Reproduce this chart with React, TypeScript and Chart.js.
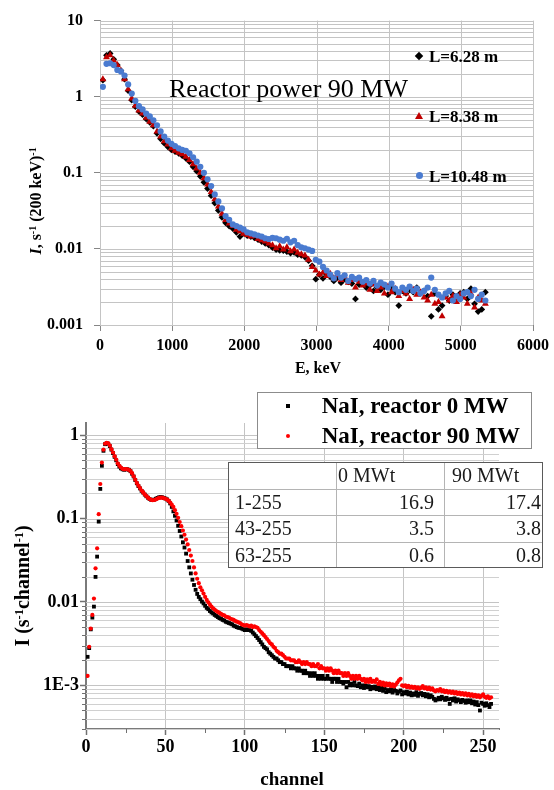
import React, { useEffect, useRef } from 'react';
import { Chart, registerables } from 'chart.js';

Chart.register(...registerables);

// ---------- Top chart data (energy, keV) ----------
const ENERGY_KEV = [
  40, 90, 140, 190, 240, 290, 340, 390, 440, 490,
  540, 590, 640, 690, 740, 790, 840, 890, 940, 990,
  1040, 1090, 1140, 1190, 1240, 1290, 1340, 1390, 1440, 1490,
  1540, 1590, 1640, 1690, 1740, 1790, 1840, 1890, 1940, 1990,
  2040, 2090, 2140, 2190, 2240, 2290, 2340, 2390, 2440, 2490,
  2540, 2590, 2640, 2690, 2740, 2790, 2840, 2890, 2940, 2990,
  3040, 3090, 3140, 3190, 3240, 3290, 3340, 3390, 3440, 3490,
  3540, 3590, 3640, 3690, 3740, 3790, 3840, 3890, 3940, 3990,
  4040, 4090, 4140, 4190, 4240, 4290, 4340, 4390, 4440, 4490,
  4540, 4590, 4640, 4690, 4740, 4790, 4840, 4890, 4940, 4990,
  5040, 5090, 5140, 5190, 5240, 5290, 5340,
];

const L_628 = [
  1.65, 3.5, 3.7, 3.1, 2.6, 2.2, 1.7, 1.2, 0.9, 0.74,
  0.64, 0.58, 0.51, 0.46, 0.41, 0.33, 0.28, 0.245, 0.22, 0.2,
  0.19, 0.18, 0.168, 0.155, 0.14, 0.12, 0.105, 0.09, 0.075, 0.062,
  0.05, 0.04, 0.032, 0.026, 0.022, 0.02, 0.0185, 0.0165, 0.0145, 0.016,
  0.015, 0.0145, 0.014, 0.0132, 0.0125, 0.0118, 0.0112, 0.0104, 0.0098, 0.0096,
  0.0095, 0.0092, 0.0088, 0.009, 0.0084, 0.0082, 0.0078, 0.007, 0.006, 0.004,
  0.0046, 0.0041, 0.0046, 0.0043, 0.0038, 0.0042, 0.0036, 0.004, 0.0037, 0.0035,
  0.0022, 0.0034, 0.0036, 0.0031, 0.0033, 0.0028, 0.0031, 0.0029, 0.0032, 0.0025,
  0.003, 0.0027, 0.0018, 0.0028, 0.0026, 0.0029, 0.0027, 0.0031, 0.0026, 0.0028,
  0.0024, 0.0013, 0.0026, 0.0016, 0.0018, 0.0024, 0.0021, 0.0025, 0.0023, 0.0026,
  0.0027, 0.0022, 0.003, 0.0019, 0.0015, 0.0016, 0.0027,
];

const L_838 = [
  1.7, 3.3, 3.5, 3.0, 2.6, 2.2, 1.7, 1.25, 0.95, 0.76,
  0.66, 0.6, 0.53, 0.47, 0.42, 0.35, 0.3, 0.26, 0.235, 0.21,
  0.195, 0.183, 0.175, 0.163, 0.147, 0.13, 0.114, 0.1, 0.085, 0.07,
  0.056, 0.045, 0.036, 0.029, 0.024, 0.0215, 0.02, 0.0178, 0.017, 0.0158,
  0.0152, 0.0145, 0.0148, 0.0135, 0.013, 0.0125, 0.0118, 0.0112, 0.0102, 0.0108,
  0.0098, 0.0105, 0.0093, 0.0098, 0.0089, 0.0085, 0.0082, 0.0072, 0.0058, 0.0052,
  0.0046, 0.0049, 0.0044, 0.0047, 0.0041, 0.0045, 0.0039, 0.0043, 0.0036, 0.0039,
  0.0031, 0.0037, 0.0033, 0.0035, 0.0029, 0.0034, 0.0028, 0.0031, 0.0026, 0.0032,
  0.0027, 0.003, 0.0024, 0.0028, 0.0026, 0.0022, 0.0029, 0.0025, 0.0027, 0.0023,
  0.0021, 0.0025, 0.0019, 0.002, 0.0013, 0.0023, 0.0021, 0.0024, 0.002, 0.0025,
  0.0023, 0.0019, 0.0026, 0.0017, 0.0023, 0.0021, 0.0019,
];

const L_1048 = [
  1.35, 2.7, 2.75, 2.6, 2.25, 2.15, 1.9, 1.45, 1.1, 0.88,
  0.75, 0.68, 0.6, 0.55, 0.49, 0.42, 0.35, 0.3, 0.265, 0.24,
  0.225, 0.21, 0.2, 0.195, 0.18, 0.16, 0.14, 0.12, 0.1, 0.082,
  0.067, 0.052, 0.042, 0.034, 0.027, 0.024, 0.021, 0.02, 0.019, 0.018,
  0.0165, 0.016, 0.0155, 0.015, 0.0145, 0.0138, 0.0135, 0.014, 0.0138, 0.0132,
  0.0128, 0.0136, 0.0122, 0.0128, 0.0112, 0.0105, 0.0102, 0.0098, 0.0094, 0.0072,
  0.0068, 0.0058, 0.0052, 0.0046, 0.0041, 0.0048, 0.0042, 0.0045, 0.0038, 0.0043,
  0.004, 0.0042, 0.0037, 0.0039, 0.0035, 0.0038, 0.0033, 0.0036, 0.0034, 0.0031,
  0.0035, 0.003, 0.0027, 0.0031, 0.0029, 0.0032, 0.0028, 0.003, 0.0026, 0.0028,
  0.0031, 0.0042, 0.0029, 0.0025, 0.0023, 0.0026, 0.0028, 0.0021, 0.0024, 0.0022,
  0.0026, 0.0027, 0.0024, 0.0029, 0.0022, 0.0025, 0.0021,
];

const TOP_LEGEND = ['L=6.28 m', 'L=8.38 m', 'L=10.48 m'];
const TOP_TITLE = 'Reactor power 90 MW';
const TOP_Y_TICKS: Record<string, string> = { '-3': '0.001', '-2': '0.01', '-1': '0.1', '0': '1', '1': '10' };
const TOP_X_TICKS = [0, 1000, 2000, 3000, 4000, 5000, 6000];

// ---------- Bottom chart data (channels 1..255) ----------
const NAI_0MW = [
  0.0022, 0.0028, 0.0047, 0.0065, 0.0088, 0.020, 0.035, 0.092, 0.227, 0.43,
  0.65, 0.78, 0.80, 0.79, 0.74, 0.67, 0.61, 0.55, 0.50, 0.45,
  0.42, 0.40, 0.39, 0.385, 0.39, 0.39, 0.385, 0.37, 0.345, 0.32,
  0.29, 0.265, 0.245, 0.23, 0.215, 0.205, 0.194, 0.185, 0.178, 0.172,
  0.168, 0.167, 0.169, 0.173, 0.177, 0.18, 0.181, 0.18, 0.177, 0.174,
  0.17, 0.163, 0.152, 0.138, 0.122, 0.108, 0.095, 0.082, 0.071, 0.061,
  0.052, 0.045, 0.038, 0.031, 0.026, 0.022, 0.0185, 0.016, 0.014, 0.0125,
  0.0115, 0.0108, 0.0101, 0.0096, 0.009, 0.0085, 0.0082, 0.0078, 0.0075, 0.0073,
  0.007, 0.0068, 0.0066, 0.0064, 0.0063, 0.0061, 0.006, 0.0058, 0.0057, 0.0056,
  0.0055, 0.0054, 0.0052, 0.0051, 0.005, 0.0049, 0.0049, 0.0048, 0.0047, 0.0046,
  0.0047, 0.0046, 0.0046, 0.0045, 0.0043, 0.0041, 0.0039, 0.0037, 0.0035, 0.0033,
  0.0031, 0.0029, 0.0028, 0.0027, 0.0025, 0.0024, 0.0023, 0.0022, 0.0021, 0.0021,
  0.002, 0.0019, 0.0019, 0.0018, 0.0018, 0.0017, 0.0017, 0.0017, 0.0016, 0.0017,
  0.0016, 0.0016, 0.0015, 0.0016, 0.0015, 0.0015, 0.0014, 0.0015, 0.0014, 0.0014,
  0.0013, 0.0014, 0.0013, 0.0014, 0.0013, 0.0012, 0.0013, 0.0012, 0.0013, 0.0012,
  0.0012, 0.0013, 0.0012, 0.0012, 0.0011, 0.0012, 0.0012, 0.0011, 0.0012, 0.0011,
  0.0011, 0.00105, 0.0011, 0.00095, 0.0011, 0.001, 0.00105, 0.001, 0.0011, 0.001,
  0.00098, 0.00105, 0.00095, 0.001, 0.00093, 0.001, 0.00095, 0.00098, 0.0009, 0.00096,
  0.00092, 0.00097, 0.0009, 0.00095, 0.00088, 0.00094, 0.00086, 0.00092, 0.00083, 0.00088,
  0.00085, 0.0009, 0.00082, 0.00088, 0.00086, 0.0008, 0.00084, 0.00087, 0.00078, 0.00083,
  0.0008, 0.00084, 0.00078, 0.00082, 0.00076, 0.0008, 0.00077, 0.00083, 0.00075, 0.00079,
  0.00081, 0.00076, 0.00079, 0.00074, 0.00078, 0.00072, 0.00076, 0.00073, 0.00069, 0.00066,
  0.00068, 0.00071, 0.00068, 0.00073, 0.0007, 0.00067, 0.00071, 0.00068, 0.0006, 0.00069,
  0.00066, 0.0007, 0.00064, 0.00068, 0.00066, 0.00063, 0.00067, 0.00065, 0.00062, 0.00066,
  0.00063, 0.00066, 0.00061, 0.00064, 0.00059, 0.00063, 0.00058, 0.0005, 0.00062, 0.0006,
  0.00057, 0.00061, 0.00058, 0.00055, 0.0006,
];

const NAI_90MW = [
  0.0013, 0.0029, 0.0048, 0.007, 0.011, 0.0253, 0.044, 0.113, 0.26, 0.47,
  0.67, 0.79, 0.81, 0.80, 0.75, 0.68, 0.62, 0.56, 0.51, 0.46,
  0.43, 0.41, 0.395, 0.39, 0.392, 0.39, 0.385, 0.372, 0.35, 0.322,
  0.293, 0.268, 0.248, 0.232, 0.217, 0.206, 0.195, 0.186, 0.178, 0.172,
  0.168, 0.166, 0.167, 0.17, 0.174, 0.177, 0.178, 0.178, 0.176, 0.173,
  0.169, 0.164, 0.156, 0.147, 0.138, 0.126, 0.114, 0.102, 0.091, 0.081,
  0.072, 0.064, 0.056, 0.049, 0.042, 0.036, 0.031, 0.026, 0.022, 0.019,
  0.0168, 0.015, 0.0138, 0.0126, 0.0115, 0.0106, 0.0099, 0.0093, 0.0088, 0.0084,
  0.0081, 0.0078, 0.0076, 0.0074, 0.0072, 0.007, 0.0069, 0.0067, 0.0066, 0.0065,
  0.0063, 0.0062, 0.0061, 0.0059, 0.0058, 0.0057, 0.0056, 0.0054, 0.0053, 0.0052,
  0.0053, 0.0052, 0.0051, 0.0052, 0.005, 0.0051, 0.005, 0.0049, 0.0046, 0.0044,
  0.0042, 0.004, 0.0038, 0.0036, 0.0034, 0.0032, 0.0031, 0.0029, 0.0028, 0.0026,
  0.0025, 0.0024, 0.0024, 0.0023, 0.0022, 0.0021, 0.0021, 0.0021, 0.002, 0.002,
  0.002, 0.0019, 0.0019, 0.002, 0.0019, 0.0018, 0.0019, 0.0018, 0.0019, 0.0018,
  0.0018, 0.0017, 0.0018, 0.0017, 0.0017, 0.0018, 0.0016, 0.0017, 0.0016, 0.0016,
  0.0015, 0.0016, 0.0015, 0.0016, 0.0015, 0.0014, 0.0015, 0.0014, 0.0015, 0.0014,
  0.0014, 0.0013, 0.0014, 0.0013, 0.0014, 0.0013, 0.0012, 0.0013, 0.0012, 0.0013,
  0.0012, 0.0013, 0.0012, 0.00115, 0.0012, 0.0011, 0.00118, 0.0011, 0.0012, 0.0011,
  0.00113, 0.0011, 0.00118, 0.00104, 0.0011, 0.00102, 0.00108, 0.001, 0.00106, 0.001,
  0.00105, 0.00098, 0.00103, 0.00097, 0.00102, 0.00108, 0.00115, 0.0012, 0.001, 0.00098,
  0.001, 0.00095, 0.00099, 0.00094, 0.00097, 0.00093, 0.00096, 0.00092, 0.00095, 0.00091,
  0.00094, 0.00098, 0.00092, 0.00095, 0.0009, 0.00094, 0.00089, 0.00092, 0.00087, 0.00085,
  0.00088, 0.00086, 0.0009, 0.00085, 0.00087, 0.00083, 0.00086, 0.00082, 0.00085, 0.00081,
  0.00084, 0.0008, 0.00083, 0.00079, 0.00082, 0.00078, 0.00081, 0.00077, 0.0008, 0.00076,
  0.00079, 0.00075, 0.00078, 0.00074, 0.00077, 0.00073, 0.00076, 0.00072, 0.00075, 0.00078,
  0.00073, 0.00071, 0.00074, 0.0007, 0.00072,
];

const BOTTOM_LEGEND = ['NaI, reactor 0 MW', 'NaI, reactor 90 MW'];
const BOTTOM_Y_TICKS: Record<string, string> = { '-3': '1E-3', '-2': '0.01', '-1': '0.1', '0': '1' };
const BOTTOM_X_TICKS = [0, 25, 50, 75, 100, 125, 150, 175, 200, 225, 250];

const TABLE_HEAD = ['', '0 MWt', '90 MWt'];
const TABLE_RANGES = ['1-255', '43-255', '63-255'];
const TABLE_0MW = ['16.9', '3.5', '0.6'];
const TABLE_90MW = ['17.4', '3.8', '0.8'];

// ---------- helpers ----------
const SERIF = '"Liberation Serif", "Times New Roman", serif';

function powExp(v: number): number | null {
  const e = Math.log10(v);
  const r = Math.round(e);
  return Math.abs(e - r) < 1e-6 ? r : null;
}
function isNice(v: number): boolean {
  const e = Math.floor(Math.log10(v) + 1e-9);
  const m = v / Math.pow(10, e);
  return Math.abs(m - Math.round(m)) < 1e-6;
}

// Excel-like grid for the top chart, drawn from the scales' own ticks
const topGrid = {
  id: 'topGrid',
  beforeDatasetsDraw(chart: any) {
    const { ctx, scales, chartArea } = chart;
    const x = scales.x;
    const y = scales.y;
    ctx.save();
    ctx.strokeStyle = '#c4c4c4';
    ctx.lineWidth = 1;
    y.ticks.forEach((t: any) => {
      if (!isNice(t.value)) return;
      const py = Math.round(y.getPixelForValue(t.value)) + 0.5;
      ctx.beginPath();
      ctx.moveTo(chartArea.left, py);
      ctx.lineTo(chartArea.right, py);
      ctx.stroke();
    });
    x.ticks.forEach((t: any) => {
      const px = Math.round(x.getPixelForValue(t.value)) + 0.5;
      ctx.beginPath();
      ctx.moveTo(px, chartArea.top);
      ctx.lineTo(px, chartArea.bottom);
      ctx.stroke();
    });
    ctx.restore();
  },
};

// Bottom chart: light horizontal grid at every log tick, plus short minor tick marks
const bottomGrid = {
  id: 'bottomGrid',
  beforeDatasetsDraw(chart: any) {
    const { ctx, scales, chartArea } = chart;
    const y = scales.y;
    ctx.save();
    ctx.lineWidth = 1;
    y.ticks.forEach((t: any) => {
      if (!isNice(t.value)) return;
      ctx.strokeStyle = powExp(t.value) !== null ? '#c4c4c4' : '#d0d0d0';
      const py = Math.round(y.getPixelForValue(t.value)) + 0.5;
      ctx.beginPath();
      ctx.moveTo(chartArea.left, py);
      ctx.lineTo(chartArea.right, py);
      ctx.stroke();
    });
    ctx.restore();
  },
  afterDraw(chart: any) {
    const { ctx, scales } = chart;
    const x = scales.x;
    const y = scales.y;
    ctx.save();
    ctx.strokeStyle = '#707070';
    ctx.lineWidth = 1;
    y.ticks.forEach((t: any) => {
      if (powExp(t.value) === null && isNice(t.value)) {
        const py = Math.round(y.getPixelForValue(t.value)) + 0.5;
        ctx.beginPath();
        ctx.moveTo(y.right - 4, py);
        ctx.lineTo(y.right, py);
        ctx.stroke();
      }
    });
    x.ticks.forEach((t: any) => {
      if (t.value % 50 !== 0 && t.value % 25 === 0) {
        const px = Math.round(x.getPixelForValue(t.value)) + 0.5;
        ctx.beginPath();
        ctx.moveTo(px, x.top);
        ctx.lineTo(px, x.top + 4);
        ctx.stroke();
      }
    });
    ctx.restore();
  },
};

function TopChart() {
  const ref = useRef<HTMLCanvasElement>(null);
  useEffect(() => {
    if (!ref.current) return;
    const tickFont = { family: SERIF, size: 16, weight: 'bold' as const };
    const chart = new Chart(ref.current, {
      type: 'scatter',
      data: {
        datasets: [
          {
            label: TOP_LEGEND[0],
            data: ENERGY_KEV.map((x, i) => ({ x, y: L_628[i] })),
            pointStyle: 'rectRot',
            pointRadius: 3.4,
            backgroundColor: '#000000',
            borderColor: '#000000',
            borderWidth: 0,
            order: 3,
          },
          {
            label: TOP_LEGEND[1],
            data: ENERGY_KEV.map((x, i) => ({ x, y: L_838[i] })),
            pointStyle: 'triangle',
            pointRadius: 4,
            backgroundColor: '#c00000',
            borderColor: '#c00000',
            borderWidth: 0,
            order: 2,
          },
          {
            label: TOP_LEGEND[2],
            data: ENERGY_KEV.map((x, i) => ({ x, y: L_1048[i] })),
            pointStyle: 'circle',
            pointRadius: 3.1,
            backgroundColor: '#4a7bd0',
            borderColor: '#4a7bd0',
            borderWidth: 0,
            order: 1,
          },
        ],
      },
      options: {
        animation: false,
        responsive: false,
        devicePixelRatio: 1,
        layout: { padding: { left: 0, right: 17, top: 12, bottom: 0 } },
        plugins: { legend: { display: false }, tooltip: { enabled: false } },
        scales: {
          x: {
            type: 'linear',
            min: 0,
            max: 6000,
            afterBuildTicks: (s: any) => {
              s.ticks = TOP_X_TICKS.map((value) => ({ value }));
            },
            ticks: {
              font: tickFont,
              color: '#000',
              padding: 5,
              maxRotation: 0,
              autoSkip: false,
              callback: (v: any) => String(v),
            },
            grid: { drawOnChartArea: false, tickLength: 6, tickColor: '#868686' },
            border: { color: '#868686', width: 1 },
            afterFit: (s: any) => { s.height = 65; },
          },
          y: {
            type: 'logarithmic',
            min: 0.001,
            max: 10,
            ticks: {
              autoSkip: false,
              font: tickFont,
              color: '#000',
              padding: 11,
              callback: (v: any) => {
                const e = powExp(Number(v));
                return e === null ? '' : TOP_Y_TICKS[String(e)] ?? '';
              },
            },
            grid: {
              drawOnChartArea: false,
              tickLength: 6,
              tickColor: (c: any) => (c.tick && powExp(c.tick.value) !== null ? '#868686' : 'rgba(0,0,0,0)'),
            },
            border: { color: '#868686', width: 1 },
            afterFit: (s: any) => { s.width = 100; },
          },
        },
      },
      plugins: [topGrid],
    } as any);
    return () => chart.destroy();
  }, []);
  return <canvas ref={ref} width={554} height={390} style={{ position: 'absolute', left: 0, top: 0, display: 'block' }} />;
}

function BottomChart() {
  const ref = useRef<HTMLCanvasElement>(null);
  useEffect(() => {
    if (!ref.current) return;
    const tickFont = { family: SERIF, size: 18, weight: 'bold' as const };
    const chart = new Chart(ref.current, {
      type: 'scatter',
      data: {
        datasets: [
          {
            label: BOTTOM_LEGEND[0],
            data: NAI_0MW.map((y, i) => ({ x: i + 1, y })),
            pointStyle: 'rect',
            pointRadius: 2.7,
            backgroundColor: '#000000',
            borderColor: '#000000',
            borderWidth: 0,
            order: 2,
          },
          {
            label: BOTTOM_LEGEND[1],
            data: NAI_90MW.map((y, i) => ({ x: i + 1, y })),
            pointStyle: 'circle',
            pointRadius: 2.1,
            backgroundColor: '#ff0000',
            borderColor: '#ff0000',
            borderWidth: 0,
            order: 1,
          },
        ],
      },
      options: {
        animation: false,
        responsive: false,
        devicePixelRatio: 1,
        layout: { padding: { left: 0, right: 55, top: 33, bottom: 0 } },
        plugins: { legend: { display: false }, tooltip: { enabled: false } },
        scales: {
          x: {
            type: 'linear',
            min: 0,
            max: 260,
            afterBuildTicks: (s: any) => {
              s.ticks = BOTTOM_X_TICKS.map((value) => ({ value }));
            },
            ticks: {
              font: tickFont,
              color: '#000',
              padding: 2,
              maxRotation: 0,
              autoSkip: false,
              callback: (v: any) => (Number(v) % 50 === 0 ? String(v) : ''),
            },
            grid: {
              color: (c: any) => (c.tick && c.tick.value % 50 === 0 ? '#c4c4c4' : 'rgba(0,0,0,0)'),
              tickLength: 6,
              tickWidth: 1.5,
              tickColor: (c: any) => (c.tick && c.tick.value % 50 === 0 ? '#707070' : 'rgba(0,0,0,0)'),
            },
            border: { color: '#7a7a7a', width: 2 },
            afterFit: (s: any) => { s.height = 61; },
          },
          y: {
            type: 'logarithmic',
            min: 0.0003,
            max: 1.4,
            ticks: {
              autoSkip: false,
              font: tickFont,
              color: '#000',
              padding: 1,
              callback: (v: any) => {
                const e = powExp(Number(v));
                return e === null ? '' : BOTTOM_Y_TICKS[String(e)] ?? '';
              },
            },
            grid: {
              drawOnChartArea: false,
              tickLength: 6,
              tickWidth: 1.5,
              tickColor: (c: any) => (c.tick && powExp(c.tick.value) !== null ? '#707070' : 'rgba(0,0,0,0)'),
            },
            border: { color: '#7a7a7a', width: 2 },
            afterFit: (s: any) => { s.width = 86; },
          },
        },
      },
      plugins: [bottomGrid],
    } as any);
    return () => chart.destroy();
  }, []);
  return <canvas ref={ref} width={554} height={400} style={{ position: 'absolute', left: 0, top: 390, display: 'block' }} />;
}

const abs = (s: React.CSSProperties): React.CSSProperties => ({ position: 'absolute', whiteSpace: 'nowrap', ...s });
const sup: React.CSSProperties = { fontSize: '0.62em', position: 'relative', top: '-0.5em', verticalAlign: 'baseline' };

export default function App() {
  const legendTops = [47.5, 107.5, 167.5];
  const tableCols = [228, 336, 444];
  const tableWidths = [108, 108, 99];
  const rowH = 26.5;
  const tableTop = 462;
  const rows = [TABLE_HEAD, ...TABLE_RANGES.map((r, i) => [r, TABLE_0MW[i], TABLE_90MW[i]])];
  return (
    <div style={{ position: 'absolute', left: 0, top: 0, width: 554, height: 790, overflow: 'hidden', background: '#fff', fontFamily: SERIF, color: '#000' }}>
      <TopChart />
      <BottomChart />

      {/* top chart overlays */}
      <div style={abs({ left: 169, top: 75.5, fontSize: 26, lineHeight: '26px' })}>{TOP_TITLE}</div>
      {TOP_LEGEND.map((t, i) => (
        <div key={t} style={abs({ left: 429, top: legendTops[i], fontSize: 17, lineHeight: '17px', fontWeight: 'bold' })}>{t}</div>
      ))}
      <div style={abs({ left: 416, top: legendTops[0] + 5, width: 6, height: 6, background: '#000', transform: 'rotate(45deg)' })} />
      <div style={abs({ left: 415, top: legendTops[1] + 4, width: 0, height: 0, borderLeft: '4px solid transparent', borderRight: '4px solid transparent', borderBottom: '7px solid #c00000' })} />
      <div style={abs({ left: 415.5, top: legendTops[2] + 4.5, width: 7, height: 7, borderRadius: '50%', background: '#4a7bd0' })} />
      <div style={abs({ left: 218, top: 360, width: 200, textAlign: 'center', fontSize: 16, lineHeight: '16px', fontWeight: 'bold' })}>E, keV</div>
      <div style={abs({ left: 36.3 - 100, top: 200.8 - 10, width: 200, height: 20, textAlign: 'center', fontSize: 16, lineHeight: '20px', fontWeight: 'bold', transform: 'rotate(-90deg)' })}>
        <i>I</i>, s<span style={sup}>-1</span> (200 keV)<span style={sup}>-1</span>
      </div>

      {/* bottom chart overlays */}
      <div style={abs({ left: 192, top: 768.6, width: 200, textAlign: 'center', fontSize: 19, lineHeight: '19px', fontWeight: 'bold' })}>channel</div>
      <div style={abs({ left: 21.5 - 100, top: 585.5 - 12, width: 200, height: 24, textAlign: 'center', fontSize: 20, lineHeight: '24px', fontWeight: 'bold', transform: 'rotate(-90deg)' })}>
        I (s<span style={sup}>-1</span>channel<span style={sup}>-1</span>)
      </div>

      <div style={abs({ left: 257, top: 392, width: 275, height: 57, boxSizing: 'border-box', border: '1px solid #8c8c8c', background: '#fff' })} />
      <div style={abs({ left: 286.3, top: 404, width: 4, height: 4, background: '#000' })} />
      <div style={abs({ left: 286.3, top: 434, width: 4, height: 4, borderRadius: '50%', background: '#ff0000' })} />
      {BOTTOM_LEGEND.map((t, i) => (
        <div key={t} style={abs({ left: 321.7, top: 394 + i * 30, fontSize: 23, lineHeight: '23px', fontWeight: 'bold' })}>{t}</div>
      ))}

      <div style={abs({ left: tableCols[0], top: tableTop, width: 315, height: rowH * 4, boxSizing: 'border-box', border: '1px solid #5a5a5a', background: '#fff' })} />
      {[1, 2, 3].map((r) => (
        <div key={'h' + r} style={abs({ left: tableCols[0] + 1, top: tableTop + r * rowH, width: 313, height: 1, background: '#b4b4b4' })} />
      ))}
      {[1, 2].map((c) => (
        <div key={'v' + c} style={abs({ left: tableCols[c], top: tableTop + 1, width: 1, height: rowH * 4 - 2, background: '#b4b4b4' })} />
      ))}
      {rows.map((row, r) =>
        row.map((txt, c) => {
          const header = r === 0;
          const alignRight = !header && c > 0;
          const padL = c === 0 ? 7 : c === 1 ? 2 : 8;
          const padR = c === 1 ? 10 : 2;
          return (
            <div
              key={r + '-' + c}
              style={abs({
                left: tableCols[c],
                top: tableTop + r * rowH,
                width: tableWidths[c],
                height: rowH,
                boxSizing: 'border-box',
                paddingLeft: alignRight ? 0 : padL,
                paddingRight: alignRight ? padR : 0,
                textAlign: alignRight ? 'right' : 'left',
                fontSize: 20,
                lineHeight: rowH + 'px',
                color: '#1a1a1a',
              })}
            >
              {txt}
            </div>
          );
        })
      )}
    </div>
  );
}
